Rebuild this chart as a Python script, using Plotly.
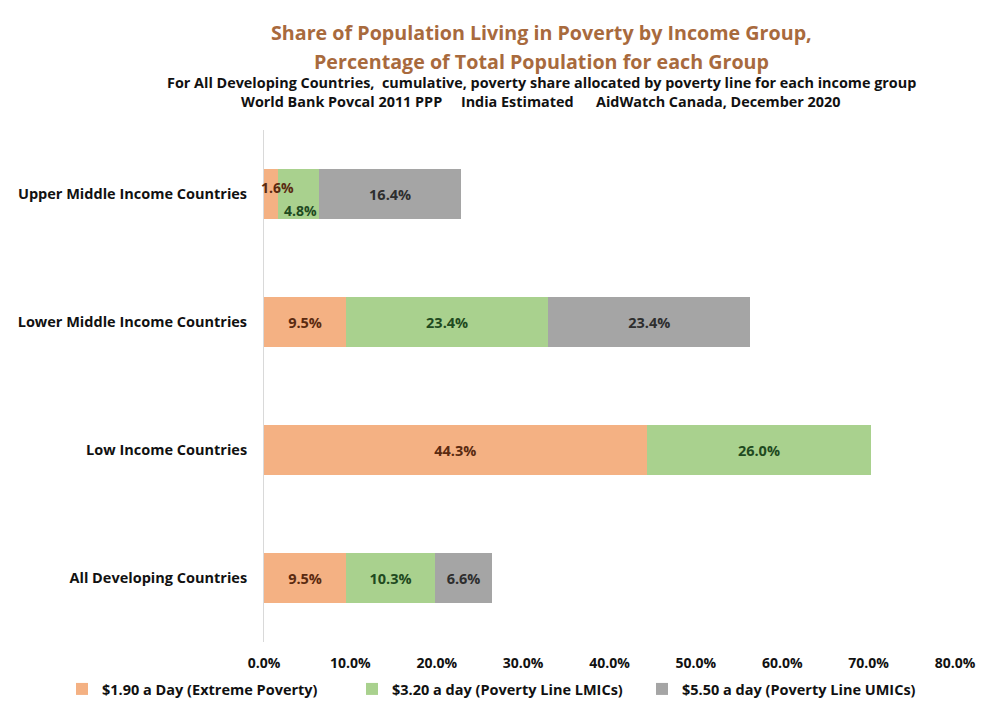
import plotly.graph_objects as go

# Income groups, listed top to bottom as they appear on the chart
groups = [
    "Upper Middle Income Countries",
    "Lower Middle Income Countries",
    "Low Income Countries",
    "All Developing Countries",
]

# Poverty share (% of each group's population) allocated by poverty line
extreme_190 = [1.6, 9.5, 44.3, 9.5]
line_320 = [4.8, 23.4, 26.0, 10.3]
line_550 = [16.4, 23.4, None, 6.6]

series_names = [
    "$1.90 a Day (Extreme Poverty)",
    "$3.20 a day (Poverty Line LMICs)",
    "$5.50 a day (Poverty Line UMICs)",
]
x_ticks = [0, 10, 20, 30, 40, 50, 60, 70, 80]

FONT = "Open Sans"
fill_colors = ["#F4B183", "#A9D18E", "#A5A5A5"]
label_colors = ["#5A2A10", "#1F4A1F", "#2E2E2E"]

# Segments too narrow for an inside label get a label placed beside them
small_segment = {(0, 0): (7, 7), (1, 0): (2, -16)}  # (series, row): (xshift, yshift)

fig = go.Figure()
all_series = [extreme_190, line_320, line_550]
for s, (vals, name) in enumerate(zip(all_series, series_names)):
    texts = []
    for r, v in enumerate(vals):
        if v is None or (s, r) in small_segment:
            texts.append("")
        else:
            texts.append(f"{v:.1f}%")
    fig.add_trace(go.Bar(
        y=groups,
        x=vals,
        name=name,
        orientation="h",
        marker=dict(color=fill_colors[s], line=dict(width=0)),
        text=texts,
        textposition="inside",
        insidetextanchor="middle",
        textangle=0,
        textfont=dict(family=FONT, size=14.5, color=label_colors[s], weight="bold"),
        hoverinfo="skip",
    ))

# Labels for the narrow segments, positioned from the data
for (s, r), (dx, dy) in small_segment.items():
    start = sum((all_series[k][r] or 0) for k in range(s))
    v = all_series[s][r]
    fig.add_annotation(
        x=start + v / 2, y=groups[r], xref="x", yref="y",
        text=f"<b>{v:.1f}%</b>", showarrow=False,
        xshift=dx, yshift=dy,
        font=dict(family=FONT, size=14, color=label_colors[s]),
    )

# Title block
title_x = 0.401
title_lines = [
    ("<b>Share of Population Living in Poverty by Income Group,</b>", 1.19, 19.7, "#A86A3D"),
    ("<b>Percentage of Total Population for each Group</b>", 1.133, 19.7, "#A86A3D"),
    ("<b>For All Developing Countries,  cumulative, poverty share allocated by poverty line for each income group</b>", 1.092, 14.4, "#111111"),
    ("<b>World Bank Povcal 2011 PPP     India Estimated      AidWatch Canada, December 2020</b>", 1.056, 14.4, "#111111"),
]
for txt, yy, sz, col in title_lines:
    fig.add_annotation(
        x=title_x, y=yy, xref="paper", yref="paper",
        text=txt, showarrow=False, xanchor="center", yanchor="middle",
        font=dict(family=FONT, size=sz, color=col),
    )

fig.update_layout(
    width=990, height=713,
    margin=dict(l=264, r=35, t=130, b=71, autoexpand=False),
    barmode="stack",
    bargap=0.61,
    paper_bgcolor="white",
    plot_bgcolor="white",
    font=dict(family=FONT, size=13, color="#111111"),
    showlegend=True,
    legend=dict(
        orientation="h",
        x=-0.2923, xref="paper", xanchor="left",
        y=-0.0918, yref="paper", yanchor="middle",
        font=dict(family=FONT, size=14.5, color="#111111", weight="bold"),
        entrywidth=245, entrywidthmode="pixels",
        itemsizing="constant",
        traceorder="normal",
    ),
    xaxis=dict(
        range=[0, 80],
        tickvals=x_ticks,
        ticktext=[f"{t:.1f}%" for t in x_ticks],
        showgrid=False, zeroline=False, showline=False,
        ticks="",
        ticklabelstandoff=11,
        tickfont=dict(family=FONT, size=14, color="#111111", weight="bold"),
        fixedrange=True,
    ),
    yaxis=dict(
        categoryorder="array",
        categoryarray=groups,
        autorange="reversed",
        showgrid=False, zeroline=False,
        showline=True, linecolor="#D9D9D9", linewidth=1,
        ticks="",
        ticklabelstandoff=13,
        tickfont=dict(family=FONT, size=14.5, color="#111111", weight="bold"),
        fixedrange=True,
    ),
)

fig.write_html("out.html")
